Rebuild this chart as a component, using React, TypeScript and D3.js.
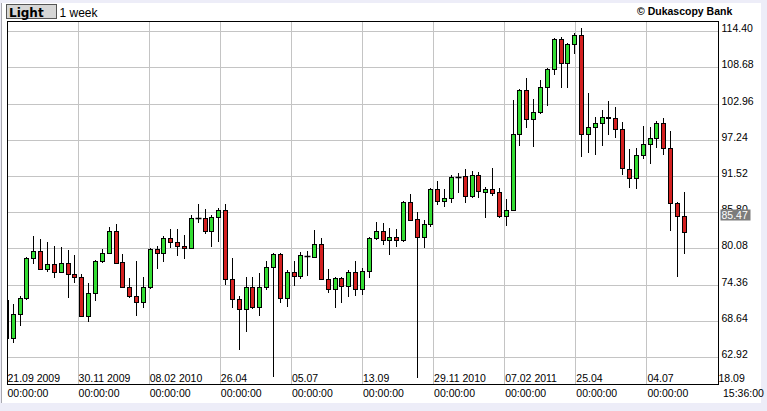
import React from 'react';
import * as d3 from 'd3';

// Weekly candles, Light crude, starting week of 21.09.2009
const opens = [
  72.0, 65.95, 69.74, 72.27, 78.59, 79.75, 76.96, 77.64, 76.38, 77.8,
  76.06, 75.7, 69.48, 73.06, 78.17, 79.38, 82.91, 78.01, 74.01, 72.69,
  71.75, 74.12, 80.01, 79.49, 81.75, 81.23, 80.6, 80.17, 84.91, 84.91,
  82.96, 85.18, 86.18, 75.28, 72.11, 70.53, 74.01, 70.96, 74.12, 77.28,
  79.28, 72.27, 76.43, 75.85, 78.96, 78.86, 80.8, 75.38, 73.8, 75.43,
  74.22, 76.38, 73.7, 76.64, 81.75, 82.91, 81.44, 81.91, 81.44, 87.49,
  84.75, 82.02, 83.96, 89.5, 87.7, 88.07, 91.4, 91.6, 88.44, 91.7,
  89.13, 89.5, 89.02, 85.33, 86.23, 98.18, 105.19, 100.55, 101.66, 105.61,
  108.45, 113.25, 109.4, 112.46, 113.88, 98.18, 99.4, 99.92, 100.87, 100.71,
  98.97, 92.65, 91.23, 94.92, 96.6, 97.55, 99.92, 95.97, 87.28, 85.33,
];
const highs = [
  72.4, 71.4, 72.64, 78.86, 82.12, 81.6, 81.17, 80.54, 80.33, 79.91,
  79.12, 76.06, 74.64, 78.33, 80.07, 83.6, 84.0, 79.28, 75.43, 78.17,
  75.7, 80.17, 80.54, 82.12, 83.17, 83.17, 82.28, 85.44, 87.18, 86.39,
  85.44, 86.49, 87.18, 78.59, 72.64, 75.7, 75.7, 76.22, 78.17, 79.38,
  79.49, 76.75, 78.22, 79.65, 79.8, 83.07, 81.75, 76.85, 75.7, 75.7,
  76.75, 78.17, 77.01, 81.91, 84.38, 84.12, 83.33, 83.23, 87.65, 88.76,
  85.91, 84.65, 89.76, 90.81, 89.5, 91.76, 92.13, 92.65, 92.44, 92.23,
  89.92, 92.81, 89.65, 87.97, 103.61, 105.3, 107.03, 103.77, 106.77, 108.61,
  113.46, 113.62, 112.67, 114.25, 114.93, 104.77, 100.98, 102.03, 103.45, 102.45,
  100.08, 95.87, 96.08, 99.5, 99.4, 100.34, 100.71, 98.71, 87.55, 89.02,
];
const lows = [
  65.0, 65.27, 67.95, 72.0, 77.64, 76.85, 76.49, 75.54, 76.22, 72.38,
  74.75, 69.38, 68.58, 71.9, 77.8, 79.28, 77.7, 74.0, 72.38, 69.53,
  70.8, 73.7, 76.91, 78.07, 80.17, 79.0, 78.49, 80.07, 84.12, 82.44,
  80.44, 81.23, 74.38, 70.8, 64.1, 67.0, 70.53, 69.48, 73.59, 59.85,
  71.59, 70.96, 74.22, 75.33, 75.8, 78.59, 75.17, 73.17, 70.7, 71.48,
  72.54, 72.64, 72.8, 75.54, 81.49, 80.7, 79.12, 80.43, 81.17, 84.5,
  59.7, 80.28, 83.6, 87.02, 86.76, 87.28, 88.97, 87.28, 88.18, 88.07,
  85.02, 88.44, 85.02, 83.75, 86.13, 96.39, 99.24, 96.24, 101.4, 102.71,
  107.56, 105.45, 105.45, 110.83, 94.66, 95.29, 94.92, 96.39, 98.08, 97.66,
  91.76, 89.76, 89.55, 94.29, 93.5, 96.08, 94.92, 82.96, 75.7, 79.23,
];
const closes = [
  65.95, 69.74, 72.27, 78.59, 79.75, 76.96, 77.64, 76.38, 77.8, 76.06,
  75.7, 69.48, 73.06, 78.17, 79.38, 82.91, 77.91, 74.01, 72.69, 71.75,
  74.12, 80.01, 79.49, 81.75, 81.23, 80.6, 80.17, 84.91, 84.95, 82.96,
  85.18, 86.18, 75.28, 72.11, 70.53, 74.01, 70.96, 74.12, 77.28, 79.22,
  72.27, 76.49, 75.85, 79.07, 78.92, 80.8, 75.38, 73.8, 75.43, 74.22,
  76.38, 73.7, 76.64, 81.75, 82.91, 81.49, 81.91, 81.44, 87.49, 84.65,
  82.02, 83.96, 89.5, 87.7, 88.07, 91.39, 91.5, 88.44, 91.7, 89.23,
  89.5, 88.97, 85.33, 86.23, 98.18, 105.19, 100.55, 101.66, 105.61, 108.45,
  113.25, 109.4, 112.46, 113.88, 98.18, 99.4, 99.92, 100.87, 100.82, 98.97,
  92.92, 91.23, 94.92, 96.6, 97.55, 99.92, 95.97, 87.28, 85.33, 82.7,
];

const priceTicks = [114.40, 108.68, 102.96, 97.24, 91.52, 85.80, 80.08, 74.36, 68.64, 62.92];
const dateLabels = ['21.09 2009', '30.11 2009', '08.02 2010', '26.04', '05.07', '13.09', '29.11 2010', '07.02 2011', '25.04', '04.07', '18.09'];
const timeLabels = ['00:00:00', '00:00:00', '00:00:00', '00:00:00', '00:00:00', '00:00:00', '00:00:00', '00:00:00', '00:00:00', '00:00:00', '15:36:00'];
const lastPrice = 85.47;
const instrument = 'Light';
const period = '1 week';
const brand = '\u00A9 Dukascopy Bank';

const W = 767;
const H = 411;
const L = 7;
const R = 718;
const T = 21.5;
const B = 384.5;
const GREEN = '#33dd33';
const RED = '#d42020';
const GRID = '#c4c4c4';
const FONT = '"Liberation Sans", Arial, sans-serif';

export default function App() {
  const n = opens.length;
  const x = d3.scaleLinear().domain([0.08, 103.92]).range([L, R]);
  const y = d3.scaleLinear().domain([62.92, 114.40]).range([357.5, 31.7]);
  const xGrid = d3.scaleLinear().domain([0, dateLabels.length - 1]).range([L, R]);
  const px = (v: number) => Math.floor(v) + 0.5;

  const candles = d3.range(n).map((i) => {
    const o = opens[i], c = closes[i], h = highs[i], l = lows[i];
    const cx = px(x(i));
    const yo = y(o), yc = y(c);
    const top = Math.round(Math.min(yo, yc)) + 0.5;
    const bot = Math.round(Math.max(yo, yc)) + 0.5;
    const up = c >= o;
    const flat = bot - top < 1;
    return (
      <g key={i}>
        <line x1={cx} x2={cx} y1={Math.round(y(h))} y2={Math.round(y(l))} stroke="#000" strokeWidth={1} />
        {flat ? (
          <line x1={cx - 3} x2={cx + 3} y1={top} y2={top} stroke="#000" strokeWidth={1.5} />
        ) : (
          <rect x={cx - 2} y={top} width={4} height={bot - top} fill={up ? GREEN : RED} stroke="#000" strokeWidth={1} />
        )}
      </g>
    );
  });

  return (
    <svg width={W} height={H} style={{ position: 'absolute', left: 0, top: 0, display: 'block' }} fontFamily={FONT}>
      <rect x={0} y={0} width={W} height={H} fill="#ededf8" />
      <rect x={2} y={3} width={759} height={400} fill="#ffffff" />
      <line x1={1.5} x2={1.5} y1={3} y2={403} stroke="#a8a8b0" />

      {/* header */}
      <rect x={6.5} y={4.5} width={50} height={14} fill="#d6d6d6" stroke="#555" />
      <text x={9} y={16.5} fontFamily='"DejaVu Sans", Verdana, sans-serif' fontWeight="bold" fontSize={12}>{instrument}</text>
      <text x={59.5} y={16.5} fontSize={12}>{period}</text>
      <text x={637} y={14.5} fontSize={10.5} fontWeight="bold">{brand}</text>

      {/* grid */}
      {priceTicks.map((p) => (
        <line key={'h' + p} x1={L} x2={R} y1={px(y(p))} y2={px(y(p))} stroke={GRID} />
      ))}
      {dateLabels.map((d, k) => (
        <line key={'v' + k} x1={px(xGrid(k))} x2={px(xGrid(k))} y1={T} y2={B} stroke={GRID} />
      ))}

      <defs>
        <clipPath id="plotClip">
          <rect x={L + 0.5} y={T} width={R - L - 0.5} height={B - T} />
        </clipPath>
      </defs>
      <g clipPath="url(#plotClip)">{candles}</g>

      {/* frame */}
      <rect x={L + 0.5} y={T} width={R - L} height={B - T} fill="none" stroke="#000" />

      {/* price labels */}
      {priceTicks.map((p) => (
        <text key={'t' + p} x={721.5} y={px(y(p)) + 0.5} fontSize={10.5} fill="#000">{p.toFixed(2)}</text>
      ))}
      <rect x={720.5} y={Math.round(y(lastPrice)) - 5.5} width={30} height={11} fill="#7c7c7c" />
      <text x={721.5} y={Math.round(y(lastPrice)) + 4} fontSize={10.5} fill="#ffffff">{lastPrice.toFixed(2)}</text>

      {/* date labels */}
      {dateLabels.map((d, k) => (
        <text key={'d' + k} x={xGrid(k) + 0.5} y={381.5} fontSize={10.5} fill="#000">{d}</text>
      ))}
      {timeLabels.map((t, k) => (
        <text key={'tm' + k} x={k === timeLabels.length - 1 ? 723 : xGrid(k) + 0.5} y={397} fontSize={10.5} fill="#000">{t}</text>
      ))}
    </svg>
  );
}
